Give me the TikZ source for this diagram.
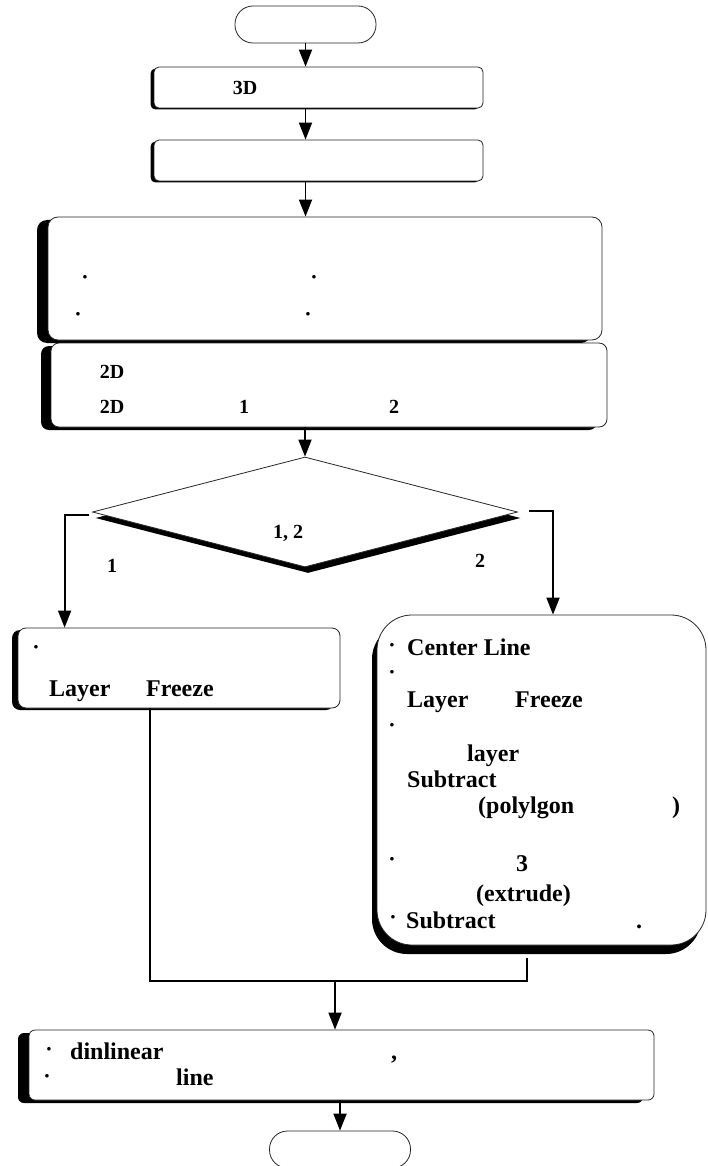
\documentclass[tikz,border=0pt]{standalone}
\usepackage{fontspec}
\setmainfont{Liberation Serif}
\usetikzlibrary{shapes.geometric,shadows,arrows.meta}
\tikzset{
  boxst/.style={draw=black!85, fill=white, line width=0.8pt, inner sep=0pt, rectangle},
  sh/.style 2 args={general shadow={fill=black, shadow xshift=#1, shadow yshift=#2}},
  arr/.style={line width=1.8pt, -{Triangle[width=13pt,length=17pt]}},
  conn/.style={line width=1.8pt},
  tl/.style={font=\bfseries\fontsize{24}{24}\selectfont, inner sep=0pt, anchor=base west},
  ts/.style={font=\bfseries\fontsize{20}{20}\selectfont, inner sep=0pt, anchor=base},
  dt/.style={font=\bfseries\fontsize{22}{22}\selectfont, inner sep=0pt},
}
\begin{document}
\begin{tikzpicture}[x=1pt,y=-1pt]
\useasboundingbox (0,0) rectangle (707,1166);
% shapes
\node[boxst, rounded corners=18pt, minimum width=141pt, minimum height=37pt] (start) at (305.5,24.5) {};
\node[boxst, sh={-3.5pt}{-1.5pt}, rounded corners=5pt, minimum width=329pt, minimum height=41pt] (box1) at (318.5,87.5) {};
\node[boxst, sh={-3.5pt}{-1.5pt}, rounded corners=5pt, minimum width=329pt, minimum height=41pt] (box2) at (318.5,160.5) {};
\node[boxst, sh={-11pt}{-3pt}, rounded corners=10pt, minimum width=554pt, minimum height=123pt] (box3) at (325,278.5) {};
\node[boxst, sh={-10pt}{-3pt}, rounded corners=8pt, minimum width=556pt, minimum height=84pt] (box4) at (329,385) {};
\node[draw=black!85, fill=white, line width=0.8pt, diamond, inner sep=0pt, minimum width=425pt, minimum height=110pt, sh={3pt}{-6pt}] (dia) at (305,512) {};
\node[boxst, sh={-6pt}{-2pt}, rounded corners=8pt, minimum width=322pt, minimum height=80pt] (lbox) at (179,668) {};
\node[boxst, sh={-5pt}{-9pt}, rounded corners=35pt, minimum width=329pt, minimum height=330pt] (rbox) at (541.5,780) {};
\node[boxst, sh={-11pt}{-3pt}, rounded corners=6pt, minimum width=625pt, minimum height=70pt] (bbox) at (341.5,1065) {};
\node[boxst, rounded corners=18pt, minimum width=141pt, minimum height=37pt] (end) at (340,1149.5) {};

% connectors
\draw[arr] (start.south) -- (start.south |- box1.north);
\draw[arr] (box1.south -| start) -- (box2.north -| start);
\draw[arr] (box2.south -| start) -- (box3.north -| start);
\draw[arr] (box4.south -| dia) -- (dia.north);
\draw[arr] ([xshift=-3pt,yshift=-3pt]dia.west) -| ([xshift=47pt]lbox.north west);
\draw[arr] ([xshift=11pt,yshift=1pt]dia.east) -| ([xshift=11.5pt]rbox.north);
\coordinate (j) at (335,981);
\draw[conn] ([xshift=-29pt]lbox.south) |- (j) -| ([xshift=-14.5pt,yshift=-13pt]rbox.south);
\draw[arr] (j) -- (j |- bbox.north);
\draw[arr] (bbox.south -| end) -- (end.north);

% texts
\node[ts] (t3d) at (245,95) {3D};
\node[dt] (d1) at (85,280) {·};
\node[dt] (d2) at (314,280) {·};
\node[dt] (d3) at (78,317) {·};
\node[dt] (d4) at (308,317) {·};
\node[ts] (t2d1) at (112,378) {2D};
\node[ts] (t2d2) at (112,413) {2D};
\node[ts] (tn1) at (244,413) {1};
\node[ts] (tn2) at (394,413) {2};
\node[ts] (t12) at (288,538) {1, 2};
\node[ts] (b1) at (112,572) {1};
\node[ts] (b2) at (480,567) {2};
% left box
\node[dt] (ld) at (36,650) {·};
\node[tl] (lla) at (49,696) {Layer};
\node[tl] (lfr) at (146,696) {Freeze};
% right box
\node[dt] (r1d) at (392,648) {·};
\node[tl] (r1) at (407,655) {Center Line};
\node[dt] (r2d) at (392,675) {·};
\node[tl] (r3a) at (407,707) {Layer};
\node[tl] (r3b) at (515,707) {Freeze};
\node[dt] (r4d) at (392,728) {·};
\node[tl] (r5) at (467,761) {layer};
\node[tl] (r6) at (407,787) {Subtract};
\node[tl] (r7a) at (478,813) {(polylgon};
\node[tl] (r7b) at (672,813) {)};
\node[dt] (r8d) at (392,862) {·};
\node[font=\bfseries\fontsize{24}{24}\selectfont, inner sep=0pt, anchor=base] (r8) at (522,871) {3};
\node[tl] (r9) at (476,901) {(extrude)};
\node[dt] (r10d) at (393,920) {·};
\node[tl] (r10) at (406,928) {Subtract};
\node[tl] (r10b) at (636,928) {.};
% bottom box
\node[dt] (bd1) at (49,1052) {·};
\node[tl] (bt1) at (70,1059) {dinlinear};
\node[tl] (bt2) at (391,1059) {,};
\node[dt] (bd2) at (47,1079) {·};
\node[tl] (bt3) at (176,1085) {line};
\end{tikzpicture}
\end{document}
